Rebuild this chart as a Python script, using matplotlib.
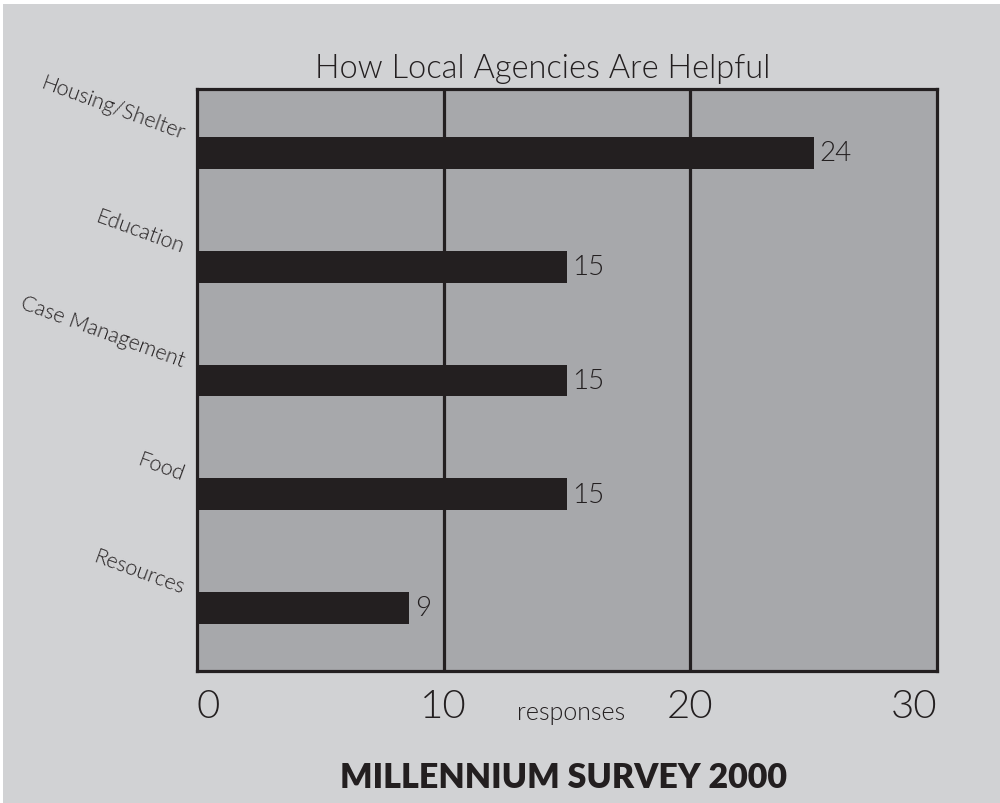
import matplotlib
matplotlib.use('Agg')
import matplotlib.pyplot as plt
from matplotlib.patches import Rectangle

# Данні з картинки
categories = ['Housing/Shelter', 'Education', 'Case Management', 'Food', 'Resources']
bar_lengths = [25, 15, 15, 15, 8.6]
value_labels = ['24', '15', '15', '15', '9']
x_ticks = [0, 10, 20, 30]

bg = '#d1d2d4'
plot_bg = '#a7a8ab'
ink = '#231f20'

plt.rcParams['font.family'] = ['Lato', 'DejaVu Sans']
plt.rcParams['font.weight'] = 300

fig = plt.figure(figsize=(10, 8.04), dpi=100, facecolor='white')
# сірий фон з білою смужкою зверху і зліва
fig.patches.append(Rectangle((0.003, 0), 0.997, 0.9938, transform=fig.transFigure,
                             facecolor=bg, edgecolor='none', zorder=-10))

ax = fig.add_axes([0.197, 0.1642, 0.740, 0.7239])
ax.set_facecolor(plot_bg)

ypos = list(range(len(categories)))
ax.barh(ypos, bar_lengths, height=0.28, color=ink, zorder=3)

for x in x_ticks[1:-1]:
    ax.axvline(x, color=ink, linewidth=2.3, zorder=2)

ax.set_xlim(0, 30)
ax.set_ylim(4.555, -0.563)

for sp in ax.spines.values():
    sp.set_linewidth(2.3)
    sp.set_color(ink)

ax.set_yticks([])
ax.set_xticks(x_ticks)
ax.set_xticklabels([str(t) for t in x_ticks], fontsize=29, color=ink)
ax.tick_params(axis='x', length=0, pad=12)
for lbl, ha in zip(ax.get_xticklabels(), ['left', 'center', 'center', 'right']):
    lbl.set_ha(ha)

# підписи значень
for y, v, lab in zip(ypos, bar_lengths, value_labels):
    ax.annotate(lab, xy=(v, y), xytext=(4, 0), textcoords='offset points',
                va='center', ha='left', fontsize=20, color=ink)

# підписи категорій під кутом
for y, cat in zip(ypos, categories):
    ax.annotate(cat, xy=(0, y - 0.14), xycoords=('axes fraction', 'data'),
                xytext=(-15, -2), textcoords='offset pixels',
                ha='right', va='baseline', rotation=-20, rotation_mode='anchor',
                fontsize=15.5, color=ink)

fig.text(0.543, 0.903, 'How Local Agencies Are Helpful', ha='center', va='baseline',
         fontsize=23.5, color=ink)
fig.text(0.571, 0.105, 'responses', ha='center', va='baseline', fontsize=18, color=ink)
fig.text(0.564, 0.0199, 'MILLENNIUM SURVEY 2000', ha='center', va='baseline',
         fontsize=24.5, fontweight='heavy', color=ink)

fig.savefig('out.png', dpi=100, facecolor=fig.get_facecolor())
